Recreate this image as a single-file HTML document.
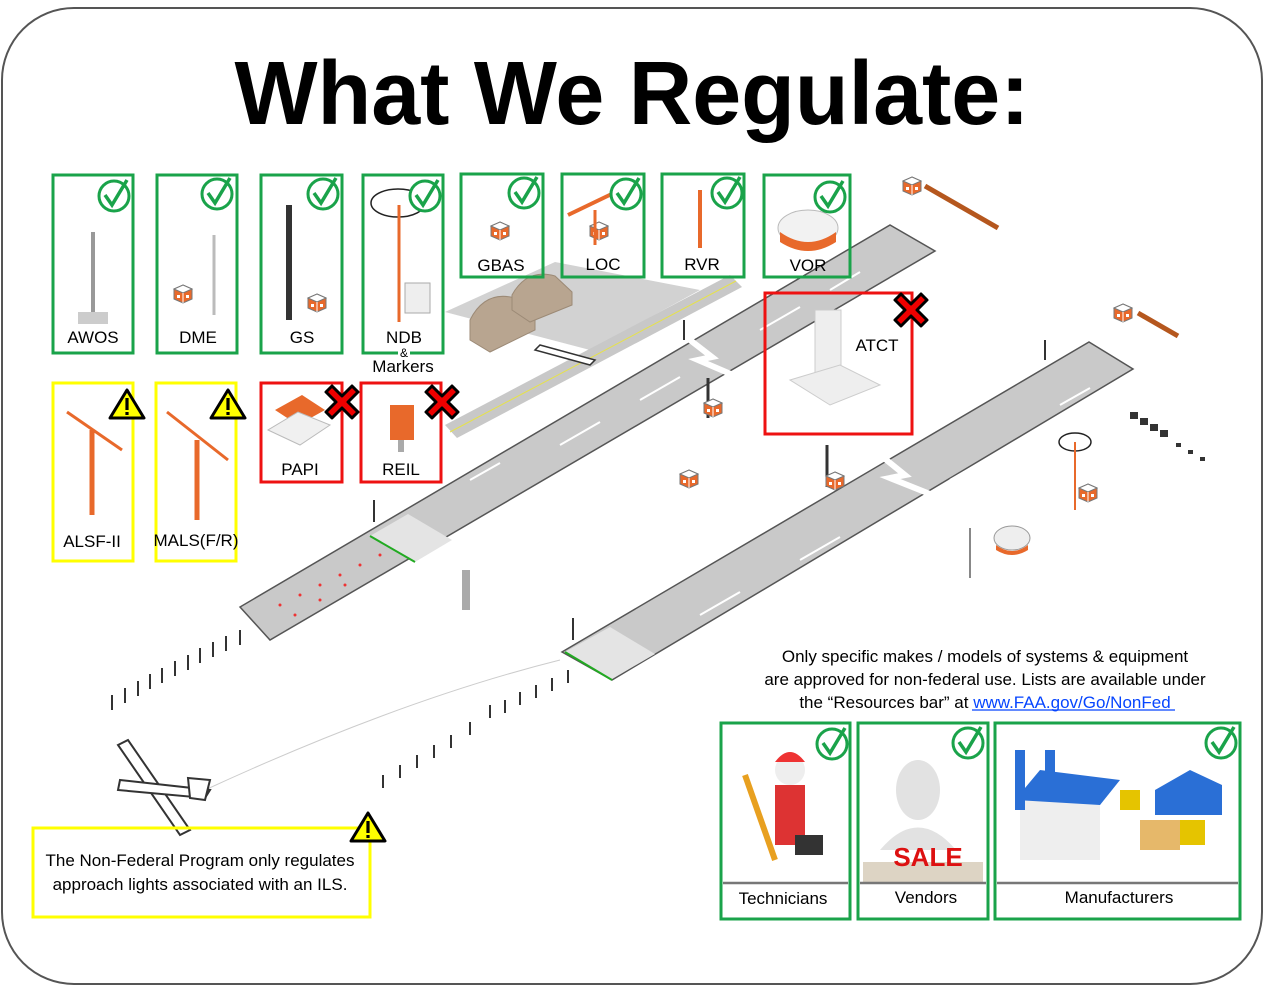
<!DOCTYPE html>
<html><head><meta charset="utf-8"><style>
html,body{margin:0;padding:0;background:#fff;}
svg{display:block;}
text{font-family:"Liberation Sans",sans-serif;}
</style></head><body>
<svg width="1265" height="986" viewBox="0 0 1265 986" xmlns="http://www.w3.org/2000/svg">
<defs>
<g id="chk"><circle cx="0" cy="0" r="15" fill="#fff" stroke="#1aa34a" stroke-width="3"/><path d="M-9,-1 L-2,9 L13,-16" fill="none" stroke="#1aa34a" stroke-width="3.5"/></g>
<g id="warn"><path d="M0,-15 L17,13 L-17,13 Z" fill="#ffff00" stroke="#000" stroke-width="3" stroke-linejoin="round"/><rect x="-1.6" y="-7" width="3.2" height="12" fill="#000"/><rect x="-1.6" y="7" width="3.2" height="3" fill="#000"/></g>
<g id="xx"><path d="M-10,-16 L0,-6 L10,-16 L16,-10 L6,0 L16,10 L10,16 L0,6 L-10,16 L-16,10 L-6,0 L-16,-10 Z" fill="#e00" stroke="#000" stroke-width="3" stroke-linejoin="round"/></g>
<g id="cube"><path d="M0,-8 L9,-4 L9,6 L0,10 L-9,6 L-9,-4 Z" fill="#e8692b" stroke="#777" stroke-width="1"/><path d="M-9,-4 L0,0 L9,-4 L0,-8 Z" fill="#fff" stroke="#777" stroke-width="1"/><path d="M0,0 L0,10" stroke="#fff" stroke-width="1"/><rect x="-6" y="2" width="3" height="3" fill="#fff"/><rect x="3" y="2" width="3" height="3" fill="#fff"/></g>
</defs>
<rect x="2" y="8" width="1260" height="976" rx="72" fill="#fff" stroke="#555" stroke-width="2"/>
<text x="632" y="124" font-size="90" font-weight="bold" textLength="795" lengthAdjust="spacingAndGlyphs" text-anchor="middle">What We Regulate:</text>

<!-- apron & taxiway -->
<polygon points="445,312 555,262 700,290 590,350" fill="#d2d2d2"/>
<polygon points="445,425 730,275 742,287 457,438" fill="#c8c8c8"/>
<line x1="450" y1="432" x2="736" y2="281" stroke="#e6e24a" stroke-width="1"/>
<g fill="#b8a590" stroke="#9c8a76" stroke-width="1">
<path d="M470,340 L470,320 Q485,290 515,298 L535,315 L535,330 L490,352 Z"/>
<path d="M512,310 L512,295 Q527,268 555,276 L572,292 L572,305 L530,322 Z"/>
</g>
<!-- runway 1 -->
<polygon points="240,607 270,640 935,251 890,225" fill="#c9c9c9" stroke="#555" stroke-width="1.5"/>
<!-- runway 2 -->
<polygon points="562,652 612,680 1133,369 1089,342" fill="#c9c9c9" stroke="#555" stroke-width="1.5"/>
<polygon points="370,536 415,562 452,540 408,514" fill="#e4e4e4"/>
<polygon points="565,652 612,679 655,654 610,627" fill="#e4e4e4"/>
<g stroke="#fff" stroke-width="2">
<line x1="470" y1="480" x2="500" y2="463"/><line x1="560" y1="445" x2="600" y2="422"/><line x1="640" y1="400" x2="680" y2="377"/><line x1="760" y1="330" x2="800" y2="307"/><line x1="830" y1="290" x2="860" y2="272"/>
<line x1="700" y1="615" x2="740" y2="592"/><line x1="800" y1="560" x2="840" y2="537"/><line x1="950" y1="480" x2="990" y2="457"/><line x1="1010" y1="445" x2="1050" y2="422"/><line x1="1060" y1="405" x2="1090" y2="388"/>
</g>
<path d="M690,340 L712,357 L698,360 L740,378" fill="none" stroke="#fff" stroke-width="6"/>
<path d="M884,458 L905,475 L890,478 L935,496" fill="none" stroke="#fff" stroke-width="6"/>
<line x1="370" y1="536" x2="415" y2="562" stroke="#2a2" stroke-width="2"/>
<line x1="565" y1="652" x2="612" y2="680" stroke="#2a2" stroke-width="2"/>
<g fill="#e33"><circle cx="280" cy="605" r="1.5"/><circle cx="300" cy="595" r="1.5"/><circle cx="320" cy="585" r="1.5"/><circle cx="340" cy="575" r="1.5"/><circle cx="360" cy="565" r="1.5"/><circle cx="380" cy="555" r="1.5"/><circle cx="295" cy="615" r="1.5"/><circle cx="320" cy="600" r="1.5"/><circle cx="345" cy="585" r="1.5"/></g>
<!-- approach lights -->
<g stroke="#333" stroke-width="2">
<line x1="112" y1="695" x2="112" y2="710"/><line x1="125" y1="688" x2="125" y2="703"/><line x1="138" y1="681" x2="138" y2="696"/><line x1="150" y1="674" x2="150" y2="689"/><line x1="162" y1="668" x2="162" y2="683"/><line x1="175" y1="661" x2="175" y2="676"/><line x1="188" y1="655" x2="188" y2="670"/><line x1="200" y1="648" x2="200" y2="663"/><line x1="213" y1="642" x2="213" y2="657"/><line x1="226" y1="636" x2="226" y2="651"/><line x1="240" y1="630" x2="240" y2="645"/>
<line x1="383" y1="775" x2="383" y2="788"/><line x1="400" y1="765" x2="400" y2="778"/><line x1="417" y1="755" x2="417" y2="768"/><line x1="434" y1="745" x2="434" y2="758"/><line x1="451" y1="735" x2="451" y2="748"/><line x1="470" y1="722" x2="470" y2="735"/><line x1="490" y1="705" x2="490" y2="718"/><line x1="505" y1="700" x2="505" y2="713"/><line x1="520" y1="692" x2="520" y2="705"/><line x1="536" y1="685" x2="536" y2="698"/><line x1="552" y1="678" x2="552" y2="691"/><line x1="568" y1="670" x2="568" y2="683"/>
<line x1="374" y1="500" x2="374" y2="522"/><line x1="573" y1="618" x2="573" y2="640"/><line x1="684" y1="320" x2="684" y2="340"/><line x1="1045" y1="340" x2="1045" y2="360"/>
<line x1="708" y1="378" x2="708" y2="418" stroke-width="3"/><line x1="827" y1="445" x2="827" y2="487" stroke-width="3"/>
</g>
<path d="M205,790 Q400,700 560,660" fill="none" stroke="#ccc" stroke-width="1"/>
<!-- small plane -->
<g stroke="#333" stroke-width="2" fill="#fff"><polygon points="118,745 128,740 190,830 180,835"/><polygon points="120,780 210,790 205,798 118,790"/><polygon points="188,778 210,780 205,800 190,798"/></g>
<g stroke="#333" stroke-width="1.5" fill="#fff"><polygon points="540,345 595,360 590,365 535,350"/></g>
<!-- scattered icons -->
<use href="#cube" x="689" y="478"/><use href="#cube" x="912" y="185"/><use href="#cube" x="1123" y="312"/><use href="#cube" x="1088" y="492"/><use href="#cube" x="835" y="480"/><use href="#cube" x="713" y="407"/>
<path d="M925,186 L998,228" stroke="#b5571e" stroke-width="5"/><path d="M1138,313 L1178,336" stroke="#b5571e" stroke-width="5"/>
<ellipse cx="1075" cy="442" rx="16" ry="9" fill="none" stroke="#222" stroke-width="1.5"/><line x1="1075" y1="442" x2="1075" y2="510" stroke="#e8692b" stroke-width="2"/>
<ellipse cx="1012" cy="538" rx="18" ry="12" fill="#eee" stroke="#999"/><path d="M996,545 q16,12 32,0 v5 q-16,10 -32,0 z" fill="#e8692b"/>
<line x1="970" y1="528" x2="970" y2="578" stroke="#888" stroke-width="2"/>
<g fill="#333"><rect x="1130" y="412" width="8" height="7"/><rect x="1140" y="418" width="8" height="7"/><rect x="1150" y="424" width="8" height="7"/><rect x="1160" y="430" width="8" height="7"/><rect x="1176" y="443" width="5" height="4"/><rect x="1188" y="450" width="5" height="4"/><rect x="1200" y="457" width="5" height="4"/></g>
<rect x="462" y="570" width="8" height="40" fill="#aaa"/>

<!-- top boxes -->
<g fill="none" stroke="#1aa34a" stroke-width="3">
<rect x="53" y="175" width="80" height="178"/><rect x="157" y="175" width="80" height="178"/><rect x="261" y="175" width="81" height="178"/>
<path d="M398,353 L363,353 L363,175 L443,175 L443,353 L410,353"/>
<rect x="461" y="174" width="82" height="103"/><rect x="562" y="174" width="82" height="103"/><rect x="662" y="174" width="82" height="103"/><rect x="764" y="175" width="86" height="102"/>
<rect x="721" y="723" width="129" height="196"/><rect x="858" y="723" width="130" height="196"/><rect x="995" y="723" width="245" height="196"/>
</g>
<g fill="none" stroke="#ffff00" stroke-width="3"><rect x="53" y="383" width="80" height="178"/><rect x="156" y="383" width="80" height="178"/><rect x="33" y="828" width="337" height="89"/></g>
<g fill="none" stroke="#ee1111" stroke-width="3"><rect x="261" y="383" width="81" height="99"/><rect x="361" y="383" width="80" height="99"/><rect x="765" y="293" width="147" height="141"/></g>

<!-- box icons -->
<g stroke="#999" stroke-width="4"><line x1="93" y1="232" x2="93" y2="315"/></g><rect x="78" y="312" width="30" height="12" fill="#ccc"/>
<line x1="214" y1="235" x2="214" y2="315" stroke="#bbb" stroke-width="3"/><use href="#cube" x="183" y="293"/>
<rect x="286" y="205" width="6" height="115" fill="#333"/><use href="#cube" x="317" y="302"/>
<ellipse cx="398" cy="203" rx="27" ry="14" fill="none" stroke="#222" stroke-width="1.5"/><line x1="399" y1="205" x2="399" y2="322" stroke="#e8692b" stroke-width="3"/><rect x="405" y="283" width="25" height="30" fill="#eee" stroke="#aaa"/>
<use href="#cube" x="500" y="230"/><use href="#cube" x="599" y="230" /><line x1="595" y1="210" x2="595" y2="245" stroke="#e8692b" stroke-width="3"/><path d="M568,215 L620,190" stroke="#e8692b" stroke-width="4"/>
<line x1="700" y1="190" x2="700" y2="248" stroke="#e8692b" stroke-width="4"/>
<ellipse cx="808" cy="228" rx="30" ry="18" fill="#f2f2f2" stroke="#bbb"/><path d="M780,232 q28,20 56,0 v10 q-28,18 -56,0 z" fill="#e8692b"/>
<path d="M67,412 L122,450" stroke="#e8692b" stroke-width="3"/><line x1="92" y1="430" x2="92" y2="515" stroke="#e8692b" stroke-width="5"/>
<path d="M167,412 L228,460" stroke="#e8692b" stroke-width="3"/><line x1="197" y1="440" x2="197" y2="520" stroke="#e8692b" stroke-width="5"/>
<polygon points="275,410 302,395 325,410 298,425" fill="#e8692b"/><polygon points="268,430 300,445 330,425 298,412" fill="#f0f0f0" stroke="#bbb"/>
<rect x="390" y="405" width="24" height="35" fill="#e8692b"/><rect x="398" y="440" width="6" height="12" fill="#aaa"/>
<rect x="815" y="310" width="26" height="85" fill="#eee" stroke="#ccc"/><polygon points="790,380 840,365 880,385 830,405" fill="#eee" stroke="#ccc"/>
<g fill="#fff"><use href="#chk" x="114" y="196"/><use href="#chk" x="217" y="194"/><use href="#chk" x="323" y="194"/><use href="#chk" x="425" y="196"/><use href="#chk" x="524" y="193"/><use href="#chk" x="626" y="194"/><use href="#chk" x="727" y="193"/><use href="#chk" x="830" y="197"/><use href="#chk" x="832" y="744"/><use href="#chk" x="968" y="743"/><use href="#chk" x="1221" y="743"/></g>
<use href="#warn" x="127" y="405"/><use href="#warn" x="228" y="405"/><use href="#warn" x="368" y="828"/>
<use href="#xx" x="342" y="402"/><use href="#xx" x="442" y="402"/><use href="#xx" x="911" y="310"/>

<!-- bottom box images -->
<circle cx="790" cy="770" r="15" fill="#eee"/><path d="M775,762 q15,-20 30,0 z" fill="#e33"/><rect x="775" y="785" width="30" height="60" fill="#d33"/><rect x="795" y="835" width="28" height="20" fill="#333"/><line x1="745" y1="775" x2="775" y2="860" stroke="#e8a020" stroke-width="6"/>
<ellipse cx="918" cy="790" rx="22" ry="30" fill="#e2e2e2"/><path d="M880,850 q38,-45 76,0 z" fill="#e2e2e2"/><rect x="863" y="862" width="120" height="20" fill="#ddd4c4"/><text x="928" y="866" font-size="26" font-weight="bold" fill="#d11" text-anchor="middle">SALE</text>
<polygon points="1020,800 1060,775 1100,800 1100,860 1020,860" fill="#eee"/><polygon points="1015,800 1040,770 1120,780 1100,805" fill="#2a6fd6"/><rect x="1015" y="750" width="10" height="60" fill="#2a6fd6"/><rect x="1045" y="750" width="10" height="50" fill="#2a6fd6"/><polygon points="1155,790 1190,770 1222,785 1222,815 1155,815" fill="#2a6fd6"/><rect x="1140" y="820" width="40" height="30" fill="#e6b86a"/><rect x="1180" y="820" width="25" height="25" fill="#e5c400"/><rect x="1120" y="790" width="20" height="20" fill="#e5c400"/>
<g stroke="#777" stroke-width="2.5"><line x1="723" y1="883" x2="848" y2="883"/><line x1="860" y1="883" x2="986" y2="883"/><line x1="997" y1="883" x2="1238" y2="883"/></g>

<!-- labels -->
<g font-size="17" fill="#000" text-anchor="middle">
<text x="93" y="343">AWOS</text><text x="198" y="343">DME</text><text x="302" y="343">GS</text><text x="404" y="343">NDB</text><text x="404" y="357" font-size="12">&amp;</text><text x="403" y="372">Markers</text>
<text x="501" y="271">GBAS</text><text x="603" y="270">LOC</text><text x="702" y="270">RVR</text><text x="808" y="271">VOR</text><text x="877" y="351">ATCT</text>
<text x="92" y="547">ALSF-II</text><text x="196" y="546">MALS(F/R)</text><text x="300" y="475">PAPI</text><text x="401" y="475">REIL</text>
<text x="783" y="904">Technicians</text><text x="926" y="903">Vendors</text><text x="1119" y="903">Manufacturers</text>
<text x="200" y="866">The Non-Federal Program only regulates</text><text x="200" y="890">approach lights associated with an ILS.</text>
<text x="985" y="662">Only specific makes / models of systems &amp; equipment</text>
<text x="985" y="685">are approved for non-federal use.  Lists are available under</text>
<text x="985" y="708">the “Resources bar” at <tspan fill="#0645ff">www.FAA.gov/Go/NonFed</tspan></text>
</g>
<line x1="972" y1="710" x2="1175" y2="710" stroke="#0645ff" stroke-width="1.2"/>
</svg>
</body></html>
